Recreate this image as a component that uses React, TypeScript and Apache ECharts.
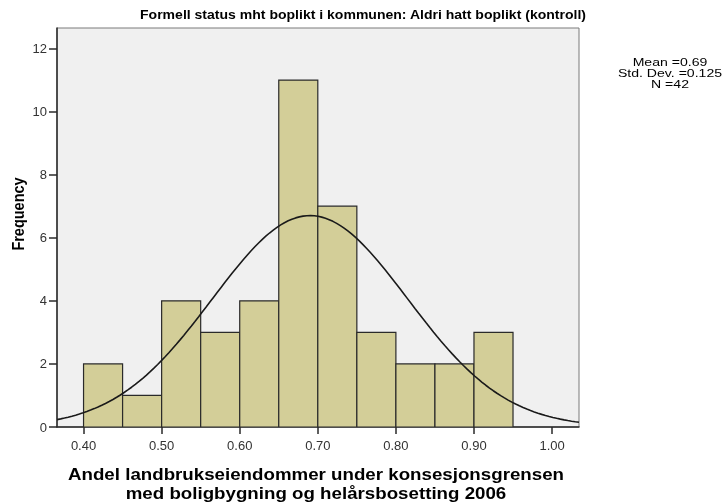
import React, { useEffect, useRef } from "react";
import * as echarts from "echarts";

const binStarts = [0.4, 0.45, 0.5, 0.55, 0.6, 0.65, 0.7, 0.75, 0.8, 0.85, 0.9];
const binWidth = 0.05;
const counts = [2, 1, 4, 3, 4, 11, 7, 3, 2, 2, 3];
const xTicks = [0.4, 0.5, 0.6, 0.7, 0.8, 0.9, 1.0];
const yTicks = [0, 2, 4, 6, 8, 10, 12];
const statMean = 0.69;
const statSd = 0.125;
const statN = 42;
const titleText = "Formell status mht boplikt i kommunen: Aldri hatt boplikt (kontroll)";
const xTitle1 = "Andel landbrukseiendommer under konsesjonsgrensen";
const xTitle2 = "med boligbygning og helårsbosetting 2006";
const yTitle = "Frequency";
const statLines = ["Mean =0.69", "Std. Dev. =0.125", "N =42"];

const X_MIN = 0.366;
const X_MAX = 1.0345;
const Y_MAX = 12.65;
const SX = 1.17;

export default function App() {
  const ref = useRef<HTMLDivElement>(null);
  useEffect(() => {
    if (!ref.current) return;
    const chart = echarts.init(ref.current, null, { renderer: "svg" });
    const bars = binStarts.map((s, i) => [s, s + binWidth, counts[i]]);
    // normal curve defined by the displayed Mean / Std. Dev. / N
    const curve: number[][] = [];
    const scale = (statN * binWidth) / (statSd * Math.sqrt(2 * Math.PI));
    for (let k = 0; k <= 140; k++) {
      const x = X_MIN + ((X_MAX - X_MIN) * k) / 140;
      const z = (x - statMean) / statSd;
      curve.push([x, scale * Math.exp(-0.5 * z * z)]);
    }
    const font = "Arial, 'Liberation Sans', sans-serif";
    const txt = (text: string, x: number, y: number, size: number, bold: boolean, extra: any = {}) => ({
      type: "text",
      x,
      y,
      scaleX: SX,
      ...extra,
      style: {
        text,
        fontFamily: font,
        fontSize: size,
        fontWeight: bold ? "bold" : "normal",
        fill: "#000",
        align: "center",
        verticalAlign: "middle",
      },
    });
    chart.setOption({
      animation: false,
      graphic: [
        txt(titleText, 363, 15, 12, true),
        txt(xTitle1, 316, 474, 16, true),
        txt(xTitle2, 316, 493, 16, true),
        txt(yTitle, 18, 214, 14.5, true, { scaleX: 1, scaleY: SX, rotation: Math.PI / 2 }),
        txt(statLines[0], 670, 62.5, 11, false, { scaleX: 1.28 }),
        txt(statLines[1], 670, 73.5, 11, false, { scaleX: 1.28 }),
        txt(statLines[2], 670, 84.5, 11, false, { scaleX: 1.28 }),
      ],
      grid: {
        left: 57,
        right: 145,
        top: 28,
        bottom: 77,
        show: true,
        backgroundColor: "#F0F0F0",
        borderColor: "#7a7a7a",
        borderWidth: 1,
      },
      xAxis: {
        type: "value",
        min: X_MIN,
        max: X_MAX,
        splitLine: { show: false },
        axisLine: { show: true, onZero: false, lineStyle: { color: "#2a2a2a", width: 1.5 } },
        axisTick: {
          show: true,
          length: 7,
          lineStyle: { color: "#2a2a2a", width: 1.5 },
          customValues: xTicks,
        },
        axisLabel: {
          fontFamily: font,
          fontSize: 13,
          color: "#333",
          margin: 12,
          customValues: xTicks,
          formatter: (v: number) => v.toFixed(2),
        },
      },
      yAxis: {
        type: "value",
        min: 0,
        max: Y_MAX,
        splitLine: { show: false },
        axisLine: { show: true, lineStyle: { color: "#2a2a2a", width: 1.5 } },
        axisTick: { show: true, length: 8, lineStyle: { color: "#2a2a2a", width: 1.5 }, customValues: yTicks },
        axisLabel: { fontFamily: font, fontSize: 13, color: "#333", margin: 10, customValues: yTicks },
      },
      series: [
        {
          type: "custom",
          data: bars,
          clip: true,
          renderItem: (params: any, api: any) => {
            const p0 = api.coord([api.value(0), api.value(2)]);
            const p1 = api.coord([api.value(1), 0]);
            return {
              type: "rect",
              shape: { x: p0[0], y: p0[1], width: p1[0] - p0[0], height: p1[1] - p0[1] },
              style: { fill: "#D3CE98", stroke: "#2a2a2a", lineWidth: 1.2 },
            };
          },
          z: 2,
        },
        {
          type: "line",
          data: curve,
          showSymbol: false,
          smooth: false,
          lineStyle: { color: "#1a1a1a", width: 1.6 },
          z: 3,
        },
      ],
    });
    return () => chart.dispose();
  }, []);
  return (
    <div
      ref={ref}
      style={{ position: "fixed", left: 0, top: 0, width: 724, height: 504 }}
    />
  );
}
